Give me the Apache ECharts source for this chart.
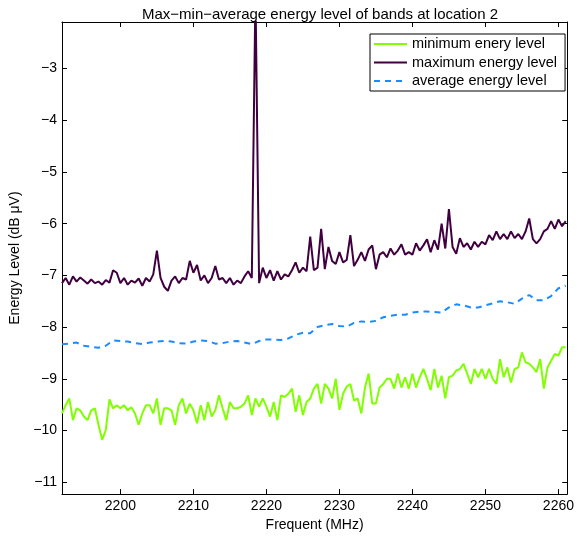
<!DOCTYPE html>
<html>
<head>
<meta charset="utf-8">
<script src="https://cdn.jsdelivr.net/npm/echarts@6/dist/echarts.min.js"></script>
<style>
  html, body { margin: 0; padding: 0; background: #fff; }
  #chart { width: 577px; height: 537px; }
</style>
</head>
<body>
<div id="chart"></div>
<script>
// frequency grid (MHz) for the min / max traces, 0.5 MHz apart
const freqStart = 2192
const freqStep = 0.5
// frequency grid for the average trace, 1 MHz apart
const avgStep = 1

// maximum energy level, 2192 .. 2261 MHz (10 values per row = 5 MHz)
const maxLevel = [
  -7.15, -7.05, -7.18, -7.02, -7.12, -7.04, -7.10, -7.16, -7.08, -7.15,
  -7.12, -7.18, -7.09, -7.14, -6.90, -6.95, -7.15, -7.05, -7.18, -7.10,
  -7.14, -7.06, -7.20, -7.05, -7.12, -6.98, -6.52, -7.05, -7.22, -7.30,
  -7.10, -7.02, -7.15, -7.05, -7.08, -6.72, -6.95, -6.80, -7.10, -7.00,
  -7.15, -7.05, -6.82, -7.08, -7.05, -7.15, -7.05, -7.18, -7.10, -7.15,
  -7.02, -6.92, -7.05, -1.50, -7.15, -6.85, -7.05, -6.90, -7.10, -6.92,
  -7.08, -6.98, -7.02, -6.90, -6.75, -6.95, -6.85, -6.92, -6.25, -6.90,
  -6.85, -6.10, -6.88, -6.45, -6.72, -6.78, -6.55, -6.75, -6.70, -6.22,
  -6.82, -6.70, -6.55, -6.72, -6.50, -6.42, -6.88, -6.60, -6.55, -6.65,
  -6.48, -6.60, -6.52, -6.40, -6.60, -6.55, -6.60, -6.38, -6.52, -6.42,
  -6.30, -6.55, -6.32, -6.50, -6.00, -6.48, -5.72, -6.45, -6.58, -6.28,
  -6.45, -6.38, -6.50, -6.35, -6.45, -6.35, -6.40, -6.22, -6.32, -6.15,
  -6.30, -6.20, -6.30, -6.15, -6.28, -6.20, -6.30, -6.15, -5.90, -6.30,
  -6.38, -6.30, -6.15, -6.10, -5.95, -6.10, -5.92, -6.05, -5.95
]

// minimum energy level, same grid
const minLevel = [
  -9.67, -9.51, -9.38, -9.80, -9.57, -9.61, -9.73, -9.80, -9.61, -9.57,
  -9.89, -10.18, -9.99, -9.40, -9.57, -9.51, -9.57, -9.51, -9.61, -9.55,
  -9.67, -9.89, -9.67, -9.51, -9.51, -9.67, -9.38, -9.89, -9.57, -9.57,
  -9.61, -9.89, -9.51, -9.38, -9.67, -9.48, -9.61, -9.86, -9.51, -9.80,
  -9.45, -9.73, -9.61, -9.32, -9.57, -9.80, -9.45, -9.57, -9.57, -9.54,
  -9.48, -9.32, -9.70, -9.38, -9.54, -9.38, -9.54, -9.73, -9.45, -9.80,
  -9.32, -9.35, -9.29, -9.19, -9.64, -9.32, -9.70, -9.45, -9.38, -9.19,
  -9.10, -9.48, -9.10, -9.19, -9.38, -9.00, -9.60, -9.29, -9.15, -9.10,
  -9.42, -9.38, -9.67, -9.17, -8.90, -9.48, -9.48, -9.17, -9.10, -9.00,
  -9.00, -9.19, -8.90, -9.17, -8.97, -9.19, -8.90, -9.17, -8.97, -8.81,
  -9.00, -9.22, -8.81, -9.17, -8.94, -9.38, -8.97, -8.94, -8.84, -8.81,
  -8.71, -8.90, -9.10, -8.81, -8.97, -8.81, -9.00, -8.81, -9.00, -9.10,
  -8.62, -8.97, -8.78, -9.07, -8.81, -8.78, -8.49, -8.68, -8.71, -8.78,
  -8.87, -8.62, -9.19, -8.78, -8.65, -8.52, -8.55, -8.39, -8.39
]

// average energy level, 2192 .. 2261 MHz, 1 MHz apart
const avgLevel = [
  -8.33, -8.32, -8.30, -8.36, -8.38, -8.40, -8.36, -8.26, -8.27, -8.28,
  -8.31, -8.33, -8.30, -8.28, -8.27, -8.28, -8.31, -8.32, -8.28, -8.26,
  -8.27, -8.32, -8.31, -8.28, -8.27, -8.30, -8.33, -8.27, -8.24, -8.24,
  -8.25, -8.22, -8.15, -8.11, -8.12, -8.00, -7.96, -7.94, -7.98, -7.99,
  -7.92, -7.89, -7.90, -7.88, -7.81, -7.78, -7.76, -7.76, -7.72, -7.70,
  -7.70, -7.71, -7.72, -7.62, -7.56, -7.58, -7.62, -7.62, -7.58, -7.54,
  -7.50, -7.52, -7.55, -7.45, -7.38, -7.48, -7.48, -7.40, -7.25, -7.20
]

const xTicks = [2200, 2210, 2220, 2230, 2240, 2250, 2260]
const yTicks = [-11, -10, -9, -8, -7, -6, -5, -4, -3]

const FONT = "'Liberation Sans', Arial, Helvetica, sans-serif"

function toPairs(values, step) {
  return values.map((v, i) => [freqStart + i * step, v])
}

const chart = echarts.init(document.getElementById('chart'), null, { renderer: 'canvas' })

const xBase = {
  type: 'value',
  min: 2192,
  max: 2261.2,
  splitLine: { show: false },
  axisLine: { show: true, onZero: false, lineStyle: { color: '#000', width: 1 } },
  axisTick: { show: true, inside: true, length: 5, customValues: xTicks, lineStyle: { color: '#000' } }
}
const yBase = {
  type: 'value',
  min: -11.23,
  max: -2.1,
  splitLine: { show: false },
  axisLine: { show: true, onZero: false, lineStyle: { color: '#000', width: 1 } },
  axisTick: { show: true, inside: true, length: 5, customValues: yTicks, lineStyle: { color: '#000' } }
}

const option = {
  animation: false,
  backgroundColor: '#fff',
  textStyle: { fontFamily: FONT },
  title: {
    text: 'Max\u2212min\u2212average energy level of bands at location 2',
    left: 315,
    top: 2,
    textAlign: 'center',
    textStyle: { fontFamily: FONT, fontSize: 15, fontWeight: 'normal', color: '#000' }
  },
  grid: { left: 62, right: 9, top: 22, bottom: 39, containLabel: false },
  legend: {
    orient: 'vertical',
    left: 370,
    top: 34,
    padding: [2, 8, 2, 3],
    itemGap: 2.5,
    itemWidth: 33,
    itemHeight: 16,
    backgroundColor: '#fff',
    borderColor: '#000',
    borderWidth: 1,
    borderRadius: 0,
    itemStyle: { opacity: 0 },
    textStyle: { fontFamily: FONT, fontSize: 14.5, color: '#000', lineHeight: 16 },
    data: ['minimum enery level', 'maximum energy level', 'average energy level']
  },
  xAxis: [
    Object.assign({}, xBase, {
      position: 'bottom',
      name: 'Frequent (MHz)',
      nameLocation: 'middle',
      nameGap: 20,
      nameTextStyle: { fontFamily: FONT, fontSize: 14, color: '#000' },
      axisLabel: {
        show: true, customValues: xTicks, margin: 5, fontFamily: FONT, fontSize: 14, color: '#000',
        formatter: v => String(v)
      }
    }),
    Object.assign({}, xBase, { position: 'top', axisLabel: { show: false } })
  ],
  yAxis: [
    Object.assign({}, yBase, {
      position: 'left',
      name: 'Energy Level (dB \u03bcV)',
      nameLocation: 'middle',
      nameGap: 32,
      nameRotate: 90,
      nameTextStyle: { fontFamily: FONT, fontSize: 14, color: '#000' },
      axisLabel: {
        show: true, customValues: yTicks, margin: 5, fontFamily: FONT, fontSize: 14, color: '#000',
        formatter: v => (v < 0 ? '\u2212' + Math.abs(v) : String(v))
      }
    }),
    Object.assign({}, yBase, { position: 'right', axisLabel: { show: false } })
  ],
  series: [
    {
      name: 'minimum enery level',
      type: 'line',
      symbol: 'none',
      clip: true,
      data: toPairs(minLevel, freqStep),
      lineStyle: { color: '#80ff00', width: 2 },
      itemStyle: { color: '#80ff00' }
    },
    {
      name: 'maximum energy level',
      type: 'line',
      symbol: 'none',
      clip: true,
      data: toPairs(maxLevel, freqStep),
      lineStyle: { color: '#400040', width: 2 },
      itemStyle: { color: '#400040' }
    },
    {
      name: 'average energy level',
      type: 'line',
      symbol: 'none',
      clip: true,
      data: toPairs(avgLevel, avgStep),
      lineStyle: { color: '#1a8cff', width: 2, type: [6, 5] },
      itemStyle: { color: '#1a8cff' }
    }
  ]
}

chart.setOption(option)
</script>
</body>
</html>
